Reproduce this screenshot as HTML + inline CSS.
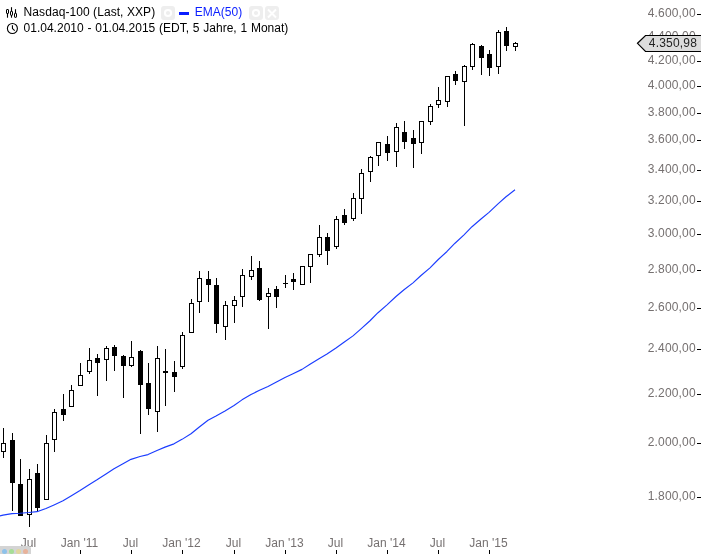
<!DOCTYPE html><html><head><meta charset="utf-8"><style>html,body{margin:0;padding:0;background:#fff;overflow:hidden}svg{display:block;will-change:transform}text{font-family:"Liberation Sans",Arial,sans-serif;font-size:12px}</style></head><body>
<svg width="701" height="554" viewBox="0 0 701 554">
<rect width="701" height="554" fill="#fff"/>
<text x="695.8" y="17" text-anchor="end" fill="#757070" letter-spacing="0.17">4.600,00</text>
<rect x="697" y="14" width="4" height="1" fill="#000"/>
<text x="695.8" y="40" text-anchor="end" fill="#757070" letter-spacing="0.17">4.400,00</text>
<rect x="697" y="37" width="4" height="1" fill="#000"/>
<text x="695.8" y="64" text-anchor="end" fill="#757070" letter-spacing="0.17">4.200,00</text>
<rect x="697" y="61" width="4" height="1" fill="#000"/>
<text x="695.8" y="89" text-anchor="end" fill="#757070" letter-spacing="0.17">4.000,00</text>
<rect x="697" y="86" width="4" height="1" fill="#000"/>
<text x="695.8" y="116" text-anchor="end" fill="#757070" letter-spacing="0.17">3.800,00</text>
<rect x="697" y="113" width="4" height="1" fill="#000"/>
<text x="695.8" y="143" text-anchor="end" fill="#757070" letter-spacing="0.17">3.600,00</text>
<rect x="697" y="140" width="4" height="1" fill="#000"/>
<text x="695.8" y="173" text-anchor="end" fill="#757070" letter-spacing="0.17">3.400,00</text>
<rect x="697" y="170" width="4" height="1" fill="#000"/>
<text x="695.8" y="204" text-anchor="end" fill="#757070" letter-spacing="0.17">3.200,00</text>
<rect x="697" y="201" width="4" height="1" fill="#000"/>
<text x="695.8" y="237" text-anchor="end" fill="#757070" letter-spacing="0.17">3.000,00</text>
<rect x="697" y="234" width="4" height="1" fill="#000"/>
<text x="695.8" y="273" text-anchor="end" fill="#757070" letter-spacing="0.17">2.800,00</text>
<rect x="697" y="270" width="4" height="1" fill="#000"/>
<text x="695.8" y="311" text-anchor="end" fill="#757070" letter-spacing="0.17">2.600,00</text>
<rect x="697" y="308" width="4" height="1" fill="#000"/>
<text x="695.8" y="352" text-anchor="end" fill="#757070" letter-spacing="0.17">2.400,00</text>
<rect x="697" y="349" width="4" height="1" fill="#000"/>
<text x="695.8" y="397" text-anchor="end" fill="#757070" letter-spacing="0.17">2.200,00</text>
<rect x="697" y="394" width="4" height="1" fill="#000"/>
<text x="695.8" y="446" text-anchor="end" fill="#757070" letter-spacing="0.17">2.000,00</text>
<rect x="697" y="443" width="4" height="1" fill="#000"/>
<text x="695.8" y="500" text-anchor="end" fill="#757070" letter-spacing="0.17">1.800,00</text>
<rect x="697" y="497" width="4" height="1" fill="#000"/>
<g shape-rendering="crispEdges">
<rect x="3" y="428" width="1" height="30" fill="#000"/>
<rect x="1" y="443" width="5" height="9" fill="#000"/>
<rect x="2" y="444" width="3" height="7" fill="#fff"/>
<rect x="12" y="433" width="1" height="78" fill="#000"/>
<rect x="10" y="440" width="5" height="43" fill="#000"/>
<rect x="20" y="459" width="1" height="57" fill="#000"/>
<rect x="18" y="484" width="5" height="32" fill="#000"/>
<rect x="29" y="469" width="1" height="58" fill="#000"/>
<rect x="27" y="479" width="5" height="36" fill="#000"/>
<rect x="28" y="480" width="3" height="34" fill="#fff"/>
<rect x="37" y="464" width="1" height="48" fill="#000"/>
<rect x="35" y="473" width="5" height="35" fill="#000"/>
<rect x="46" y="435" width="1" height="65" fill="#000"/>
<rect x="44" y="443" width="5" height="57" fill="#000"/>
<rect x="45" y="444" width="3" height="55" fill="#fff"/>
<rect x="54" y="409" width="1" height="43" fill="#000"/>
<rect x="52" y="412" width="5" height="28" fill="#000"/>
<rect x="53" y="413" width="3" height="26" fill="#fff"/>
<rect x="63" y="394" width="1" height="27" fill="#000"/>
<rect x="61" y="409" width="5" height="6" fill="#000"/>
<rect x="71" y="385" width="1" height="22" fill="#000"/>
<rect x="69" y="390" width="5" height="17" fill="#000"/>
<rect x="70" y="391" width="3" height="15" fill="#fff"/>
<rect x="80" y="363" width="1" height="23" fill="#000"/>
<rect x="78" y="375" width="5" height="11" fill="#000"/>
<rect x="79" y="376" width="3" height="9" fill="#fff"/>
<rect x="89" y="348" width="1" height="26" fill="#000"/>
<rect x="87" y="360" width="5" height="12" fill="#000"/>
<rect x="88" y="361" width="3" height="10" fill="#fff"/>
<rect x="97" y="354" width="1" height="42" fill="#000"/>
<rect x="95" y="358" width="5" height="5" fill="#000"/>
<rect x="106" y="346" width="1" height="35" fill="#000"/>
<rect x="104" y="348" width="5" height="12" fill="#000"/>
<rect x="105" y="349" width="3" height="10" fill="#fff"/>
<rect x="114" y="345" width="1" height="26" fill="#000"/>
<rect x="112" y="347" width="5" height="9" fill="#000"/>
<rect x="123" y="355" width="1" height="43" fill="#000"/>
<rect x="121" y="356" width="5" height="10" fill="#000"/>
<rect x="131" y="341" width="1" height="26" fill="#000"/>
<rect x="129" y="357" width="5" height="9" fill="#000"/>
<rect x="130" y="358" width="3" height="7" fill="#fff"/>
<rect x="140" y="350" width="1" height="84" fill="#000"/>
<rect x="138" y="351" width="5" height="34" fill="#000"/>
<rect x="148" y="363" width="1" height="52" fill="#000"/>
<rect x="146" y="383" width="5" height="26" fill="#000"/>
<rect x="157" y="346" width="1" height="86" fill="#000"/>
<rect x="155" y="358" width="5" height="54" fill="#000"/>
<rect x="156" y="359" width="3" height="52" fill="#fff"/>
<rect x="165" y="349" width="1" height="57" fill="#000"/>
<rect x="163" y="371" width="5" height="2" fill="#000"/>
<rect x="174" y="361" width="1" height="31" fill="#000"/>
<rect x="172" y="372" width="5" height="5" fill="#000"/>
<rect x="182" y="332" width="1" height="37" fill="#000"/>
<rect x="180" y="335" width="5" height="32" fill="#000"/>
<rect x="181" y="336" width="3" height="30" fill="#fff"/>
<rect x="191" y="299" width="1" height="34" fill="#000"/>
<rect x="189" y="303" width="5" height="30" fill="#000"/>
<rect x="190" y="304" width="3" height="28" fill="#fff"/>
<rect x="199" y="271" width="1" height="42" fill="#000"/>
<rect x="197" y="278" width="5" height="24" fill="#000"/>
<rect x="198" y="279" width="3" height="22" fill="#fff"/>
<rect x="208" y="271" width="1" height="31" fill="#000"/>
<rect x="206" y="279" width="5" height="6" fill="#000"/>
<rect x="216" y="278" width="1" height="55" fill="#000"/>
<rect x="214" y="285" width="5" height="39" fill="#000"/>
<rect x="225" y="301" width="1" height="39" fill="#000"/>
<rect x="223" y="305" width="5" height="22" fill="#000"/>
<rect x="224" y="306" width="3" height="20" fill="#fff"/>
<rect x="234" y="296" width="1" height="27" fill="#000"/>
<rect x="232" y="300" width="5" height="6" fill="#000"/>
<rect x="233" y="301" width="3" height="4" fill="#fff"/>
<rect x="242" y="269" width="1" height="38" fill="#000"/>
<rect x="240" y="275" width="5" height="22" fill="#000"/>
<rect x="241" y="276" width="3" height="20" fill="#fff"/>
<rect x="251" y="256" width="1" height="24" fill="#000"/>
<rect x="249" y="270" width="5" height="7" fill="#000"/>
<rect x="250" y="271" width="3" height="5" fill="#fff"/>
<rect x="259" y="261" width="1" height="40" fill="#000"/>
<rect x="257" y="268" width="5" height="32" fill="#000"/>
<rect x="268" y="288" width="1" height="41" fill="#000"/>
<rect x="266" y="293" width="5" height="4" fill="#000"/>
<rect x="267" y="294" width="3" height="2" fill="#fff"/>
<rect x="276" y="286" width="1" height="22" fill="#000"/>
<rect x="274" y="289" width="5" height="8" fill="#000"/>
<rect x="285" y="275" width="1" height="13" fill="#000"/>
<rect x="283" y="283" width="5" height="1" fill="#000"/>
<rect x="293" y="273" width="1" height="17" fill="#000"/>
<rect x="291" y="279" width="5" height="3" fill="#000"/>
<rect x="300" y="266" width="5" height="19" fill="#000"/>
<rect x="301" y="267" width="3" height="17" fill="#fff"/>
<rect x="310" y="254" width="1" height="29" fill="#000"/>
<rect x="308" y="254" width="5" height="13" fill="#000"/>
<rect x="309" y="255" width="3" height="11" fill="#fff"/>
<rect x="319" y="225" width="1" height="32" fill="#000"/>
<rect x="317" y="237" width="5" height="18" fill="#000"/>
<rect x="318" y="238" width="3" height="16" fill="#fff"/>
<rect x="327" y="233" width="1" height="32" fill="#000"/>
<rect x="325" y="237" width="5" height="14" fill="#000"/>
<rect x="336" y="216" width="1" height="33" fill="#000"/>
<rect x="334" y="219" width="5" height="28" fill="#000"/>
<rect x="335" y="220" width="3" height="26" fill="#fff"/>
<rect x="344" y="209" width="1" height="16" fill="#000"/>
<rect x="342" y="215" width="5" height="8" fill="#000"/>
<rect x="353" y="193" width="1" height="28" fill="#000"/>
<rect x="351" y="198" width="5" height="21" fill="#000"/>
<rect x="352" y="199" width="3" height="19" fill="#fff"/>
<rect x="361" y="169" width="1" height="45" fill="#000"/>
<rect x="359" y="173" width="5" height="26" fill="#000"/>
<rect x="360" y="174" width="3" height="24" fill="#fff"/>
<rect x="370" y="156" width="1" height="26" fill="#000"/>
<rect x="368" y="157" width="5" height="15" fill="#000"/>
<rect x="369" y="158" width="3" height="13" fill="#fff"/>
<rect x="378" y="142" width="1" height="24" fill="#000"/>
<rect x="376" y="142" width="5" height="14" fill="#000"/>
<rect x="377" y="143" width="3" height="12" fill="#fff"/>
<rect x="387" y="136" width="1" height="25" fill="#000"/>
<rect x="385" y="144" width="5" height="9" fill="#000"/>
<rect x="396" y="123" width="1" height="44" fill="#000"/>
<rect x="394" y="127" width="5" height="25" fill="#000"/>
<rect x="395" y="128" width="3" height="23" fill="#fff"/>
<rect x="404" y="121" width="1" height="28" fill="#000"/>
<rect x="402" y="132" width="5" height="10" fill="#000"/>
<rect x="413" y="130" width="1" height="38" fill="#000"/>
<rect x="411" y="138" width="5" height="6" fill="#000"/>
<rect x="421" y="121" width="1" height="33" fill="#000"/>
<rect x="419" y="121" width="5" height="22" fill="#000"/>
<rect x="420" y="122" width="3" height="20" fill="#fff"/>
<rect x="430" y="104" width="1" height="21" fill="#000"/>
<rect x="428" y="106" width="5" height="16" fill="#000"/>
<rect x="429" y="107" width="3" height="14" fill="#fff"/>
<rect x="438" y="87" width="1" height="21" fill="#000"/>
<rect x="436" y="100" width="5" height="5" fill="#000"/>
<rect x="437" y="101" width="3" height="3" fill="#fff"/>
<rect x="447" y="76" width="1" height="31" fill="#000"/>
<rect x="445" y="76" width="5" height="26" fill="#000"/>
<rect x="446" y="77" width="3" height="24" fill="#fff"/>
<rect x="455" y="71" width="1" height="14" fill="#000"/>
<rect x="453" y="74" width="5" height="7" fill="#000"/>
<rect x="464" y="65" width="1" height="61" fill="#000"/>
<rect x="462" y="66" width="5" height="16" fill="#000"/>
<rect x="463" y="67" width="3" height="14" fill="#fff"/>
<rect x="472" y="43" width="1" height="27" fill="#000"/>
<rect x="470" y="44" width="5" height="23" fill="#000"/>
<rect x="471" y="45" width="3" height="21" fill="#fff"/>
<rect x="481" y="45" width="1" height="30" fill="#000"/>
<rect x="479" y="46" width="5" height="12" fill="#000"/>
<rect x="489" y="50" width="1" height="26" fill="#000"/>
<rect x="487" y="54" width="5" height="14" fill="#000"/>
<rect x="498" y="30" width="1" height="44" fill="#000"/>
<rect x="496" y="32" width="5" height="35" fill="#000"/>
<rect x="497" y="33" width="3" height="33" fill="#fff"/>
<rect x="506" y="27" width="1" height="24" fill="#000"/>
<rect x="504" y="31" width="5" height="15" fill="#000"/>
<rect x="515" y="42" width="1" height="9" fill="#000"/>
<rect x="513" y="43" width="5" height="4" fill="#000"/>
<rect x="514" y="44" width="3" height="2" fill="#fff"/>
</g>
<polyline points="-5.5,517.4 3,515.1 12,513.6 20,513.2 29,512.55 37,511.69 46,508.46 54,504.94 63,500.79 71,495.94 80,490.51 89,484.7 97,479.83 106,474.01 114,468.78 123,463.87 131,459.37 140,456.55 148,454.59 157,450.43 165,447.1 174,443.85 182,439.37 191,433.8 199,427.2 208,420.24 216,416.11 225,411.01 234,405.5 242,399.86 251,394.46 259,390.6 268,386.41 276,382.2 285,377.45 293,373.74 302,369.36 310,364.25 319,358.66 327,353.95 336,347.94 344,342.19 353,335.89 361,328.89 370,320.73 378,312.71 387,304.85 396,296.51 404,289.75 413,282.87 421,275.54 430,267.84 438,259.74 447,251.47 455,243.22 464,234.87 472,226.72 481,219.02 489,212.32 498,203.81 506,196.76 515,189.78" fill="none" stroke="#1a3cff" stroke-width="1.15" stroke-linejoin="round"/>
<path d="M637.5,43.3 L645.5,35.5 L702,35.5 L702,51.5 L645.5,51.5 Z" fill="#dcdcdc" stroke="#000" stroke-width="1.2"/>
<text x="697.1" y="47" text-anchor="end" fill="#222" letter-spacing="0.2">4.350,98</text>
<text x="28.5" y="547" text-anchor="middle" fill="#757070">Jul</text>
<rect x="29" y="550" width="1" height="4" fill="#000"/>
<text x="79.5" y="547" text-anchor="middle" fill="#757070">Jan '11</text>
<rect x="80" y="550" width="1" height="4" fill="#000"/>
<text x="130.5" y="547" text-anchor="middle" fill="#757070">Jul</text>
<rect x="131" y="550" width="1" height="4" fill="#000"/>
<text x="181.5" y="547" text-anchor="middle" fill="#757070">Jan '12</text>
<rect x="182" y="550" width="1" height="4" fill="#000"/>
<text x="233.5" y="547" text-anchor="middle" fill="#757070">Jul</text>
<rect x="234" y="550" width="1" height="4" fill="#000"/>
<text x="284.5" y="547" text-anchor="middle" fill="#757070">Jan '13</text>
<rect x="285" y="550" width="1" height="4" fill="#000"/>
<text x="335.5" y="547" text-anchor="middle" fill="#757070">Jul</text>
<rect x="336" y="550" width="1" height="4" fill="#000"/>
<text x="386.5" y="547" text-anchor="middle" fill="#757070">Jan '14</text>
<rect x="387" y="550" width="1" height="4" fill="#000"/>
<text x="437.5" y="547" text-anchor="middle" fill="#757070">Jul</text>
<rect x="438" y="550" width="1" height="4" fill="#000"/>
<text x="488.5" y="547" text-anchor="middle" fill="#757070">Jan '15</text>
<rect x="489" y="550" width="1" height="4" fill="#000"/>
<path d="M0,546 L28,546 Q31,546 31,549 L31,554 L0,554 Z" fill="#d4d4d4"/>
<circle cx="4.5" cy="551.5" r="2.5" fill="#8ec2ea"/>
<circle cx="11.5" cy="551.5" r="2.5" fill="#a6de96"/>
<circle cx="18.5" cy="551.5" r="2.5" fill="#e2d69e"/>
<circle cx="25.5" cy="551.5" r="2.5" fill="#e8b29a"/>
<text x="23.6" y="16" fill="#000" letter-spacing="0.07">Nasdaq-100 (Last, XXP)</text>
<text x="23.6" y="31.5" fill="#000" word-spacing="0.45">01.04.2010 - 01.04.2015 (EDT, 5 Jahre, 1 Monat)</text>
<text x="194.8" y="16" fill="#0a1eff">EMA(50)</text>
<rect x="179" y="12" width="10" height="3" fill="#0a1eff"/>
<rect x="161" y="6" width="14" height="14" rx="3" fill="#eeeeee"/>
<rect x="249" y="6" width="14" height="14" rx="3" fill="#eeeeee"/>
<rect x="265" y="6" width="14" height="14" rx="3" fill="#eeeeee"/>
<circle cx="168" cy="13" r="3.1" fill="none" stroke="#fff" stroke-width="2"/>
<circle cx="256" cy="13" r="3.1" fill="none" stroke="#fff" stroke-width="2"/>
<path d="M268,9.5 L276,17.5 M276,9.5 L268,17.5" stroke="#fff" stroke-width="2"/>
<g fill="none" stroke="#000">
<line x1="7.5" y1="13.9" x2="7.5" y2="17.7" stroke-width="1.1"/><rect x="6.5" y="9.5" width="2" height="4" rx="0.4" stroke-width="1"/>
<line x1="11.5" y1="7.2" x2="11.5" y2="17.7" stroke-width="1.1"/><rect x="10.5" y="11.3" width="2" height="4" rx="0.4" fill="#fff" stroke-width="1"/>
<line x1="15.5" y1="9.2" x2="15.5" y2="13" stroke-width="1.1"/><rect x="14.5" y="13.3" width="2" height="4" rx="0.4" stroke-width="1"/>
</g>
<circle cx="12.4" cy="28.5" r="5" fill="none" stroke="#000" stroke-width="1.1"/>
<path d="M12.4,25.2 L12.5,28.6 L14.7,30.7" fill="none" stroke="#000" stroke-width="1.1"/>
</svg></body></html>
